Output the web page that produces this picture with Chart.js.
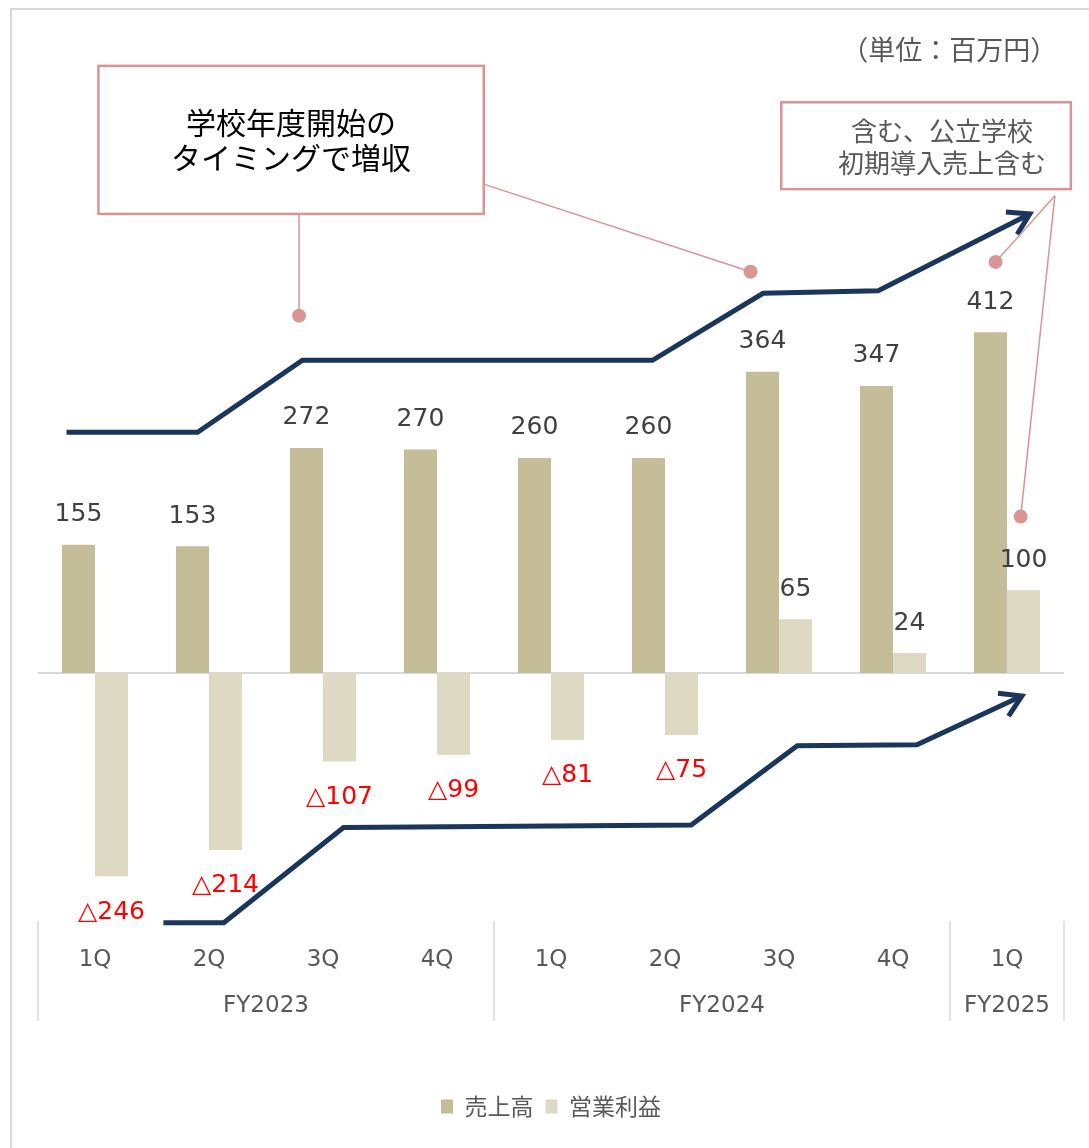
<!DOCTYPE html>
<html lang="ja">
<head>
<meta charset="utf-8">
<script src="https://cdn.jsdelivr.net/npm/chart.js@4.4.0/dist/chart.umd.min.js"></script>
<style>
html,body{margin:0;padding:0;background:#fff;overflow:hidden;}
#wrap{position:relative;width:1089px;height:1148px;}
#frame{position:absolute;left:10px;top:8px;width:1100px;height:1160px;border:2px solid #d9d9d9;box-sizing:border-box;}
canvas{position:absolute;left:0;top:0;}
</style>
</head>
<body>
<div id="wrap"><div id="frame"></div><canvas id="myChart" width="1089" height="1148"></canvas></div>
<script>
// data
var quarters = ["1Q", "2Q", "3Q", "4Q", "1Q", "2Q", "3Q", "4Q", "1Q"];
var fiscalYears = ["FY2023", "FY2024", "FY2025"];
var yearSpans = [4, 4, 1];
var sales = [155, 153, 272, 270, 260, 260, 364, 347, 412];
var opProfit = [-246, -214, -107, -99, -81, -75, 65, 24, 100];
var seriesNames = ["売上高", "営業利益"];
var unitLabel = "（単位：百万円）";
var note1 = ["学校年度開始の", "タイミングで増収"];
var note2 = ["含む、公立学校", "初期導入売上含む"];

var NUM_FONT = '"DejaVu Sans", "Noto Sans CJK JP", sans-serif';
var JP_FONT = '"Noto Sans CJK JP", sans-serif';
var PINK = '#d99594';
var NAVY = '#1b365d';

/* annotation geometry, in (category index, value) units */
var notes = {
    boxes: [
        {x0: 0.03, x1: 3.41, y0: 734, y1: 555, cx: 1.72, ly: [666, 623], lines: note1, size: 30, color: '#000'},
        {x0: 6.02, x1: 8.56, y0: 690, y1: 585, cx: 7.43, ly: [655, 617], lines: note2, size: 26, color: '#595959'}
    ],
    leaders: [
        [[1.79, 555], [1.79, 432]],
        [[3.41, 591], [5.75, 485]],
        [[8.42, 577], [7.90, 497]],
        [[8.42, 577], [8.12, 189]]
    ],
    arrows: [
        [[-0.25, 291], [0.9, 291], [1.82, 378], [4.89, 378], [5.86, 459], [6.87, 462], [8.2, 555]],
        [[0.6, -302], [1.13, -302], [2.18, -187], [5.23, -184], [6.16, -88], [7.21, -87], [8.13, -28]]
    ],
    unit: {x: 8.44, y: 753}
};

function pt(chart, p) {
    return [chart.scales.x.getPixelForValue(p[0]), chart.scales.y.getPixelForValue(p[1])];
}

var extras = {
    id: 'extras',
    beforeDatasetsDraw: function(chart) {
        var ctx = chart.ctx, a = chart.chartArea, y0 = chart.scales.y.getPixelForValue(0);
        ctx.save();
        ctx.strokeStyle = '#d9d9d9';
        ctx.lineWidth = 2;
        ctx.beginPath();
        ctx.moveTo(a.left, y0);
        ctx.lineTo(a.right, y0);
        ctx.stroke();
        ctx.restore();
    },
    afterDatasetsDraw: function(chart) {
        var ctx = chart.ctx, a = chart.chartArea, xs = chart.scales.x;
        ctx.save();

        // value labels
        ctx.textAlign = 'center';
        ctx.textBaseline = 'middle';
        ctx.font = '25px ' + NUM_FONT;
        chart.data.datasets.forEach(function(ds, di) {
            chart.getDatasetMeta(di).data.forEach(function(bar, i) {
                var v = ds.data[i];
                if (v >= 0) {
                    ctx.fillStyle = '#404040';
                    ctx.fillText(String(v), bar.x, bar.y - 30);
                } else {
                    ctx.fillStyle = '#ff0000';
                    ctx.fillText('△' + Math.abs(v), bar.x, bar.y + 36);
                }
            });
        });

        // fiscal year groups under the axis
        ctx.strokeStyle = '#d9d9d9';
        ctx.lineWidth = 1.5;
        ctx.fillStyle = '#595959';
        ctx.font = '23px ' + NUM_FONT;
        var start = 0;
        var edges = [start];
        yearSpans.forEach(function(n) { start += n; edges.push(start); });
        edges.forEach(function(e) {
            var x = xs.getPixelForValue(e - 0.5);
            ctx.beginPath();
            ctx.moveTo(x, a.bottom);
            ctx.lineTo(x, a.bottom + 100);
            ctx.stroke();
        });
        fiscalYears.forEach(function(fy, k) {
            var xa = xs.getPixelForValue(edges[k] - 0.5), xb = xs.getPixelForValue(edges[k + 1] - 0.5);
            ctx.fillText(fy, (xa + xb) / 2, a.bottom + 85);
        });

        // arrows
        ctx.strokeStyle = NAVY;
        ctx.lineWidth = 5;
        ctx.lineJoin = 'miter';
        notes.arrows.forEach(function(path) {
            var p = path.map(function(q) { return pt(chart, q); });
            ctx.beginPath();
            ctx.moveTo(p[0][0], p[0][1]);
            for (var i = 1; i < p.length; i++) ctx.lineTo(p[i][0], p[i][1]);
            ctx.stroke();
            var e = p[p.length - 1], s = p[p.length - 2];
            var ang = Math.atan2(e[1] - s[1], e[0] - s[0]);
            ctx.beginPath();
            ctx.moveTo(e[0] - 24 * Math.cos(ang - 0.55), e[1] - 24 * Math.sin(ang - 0.55));
            ctx.lineTo(e[0], e[1]);
            ctx.lineTo(e[0] - 24 * Math.cos(ang + 0.55), e[1] - 24 * Math.sin(ang + 0.55));
            ctx.stroke();
        });

        // leader lines + dots
        ctx.strokeStyle = PINK;
        ctx.fillStyle = PINK;
        ctx.lineWidth = 1.5;
        notes.leaders.forEach(function(l) {
            var p = pt(chart, l[0]), q = pt(chart, l[1]);
            ctx.beginPath();
            ctx.moveTo(p[0], p[1]);
            ctx.lineTo(q[0], q[1]);
            ctx.stroke();
            ctx.beginPath();
            ctx.arc(q[0], q[1], 7, 0, Math.PI * 2);
            ctx.fill();
        });

        // callout boxes
        notes.boxes.forEach(function(b) {
            var p = pt(chart, [b.x0, b.y0]), q = pt(chart, [b.x1, b.y1]);
            ctx.fillStyle = '#fff';
            ctx.fillRect(p[0], p[1], q[0] - p[0], q[1] - p[1]);
            ctx.strokeStyle = PINK;
            ctx.lineWidth = 2.5;
            ctx.strokeRect(p[0], p[1], q[0] - p[0], q[1] - p[1]);
            ctx.fillStyle = b.color;
            ctx.font = b.size + 'px ' + JP_FONT;
            b.lines.forEach(function(t, k) {
                var c = pt(chart, [b.cx, b.ly[k]]);
                ctx.fillText(t, c[0], c[1]);
            });
        });

        // unit
        var u = pt(chart, [notes.unit.x, notes.unit.y]);
        ctx.textAlign = 'right';
        ctx.fillStyle = '#595959';
        ctx.font = '27px ' + JP_FONT;
        ctx.fillText(unitLabel, u[0], u[1]);

        ctx.restore();
    }
};

var ctx = document.getElementById("myChart").getContext("2d");
var myChart = new Chart(ctx, {
    type: 'bar',
    data: {
        labels: quarters,
        datasets: [
            {label: seriesNames[0], data: sales, backgroundColor: '#c4bd97'},
            {label: seriesNames[1], data: opProfit, backgroundColor: '#ddd9c3'}
        ]
    },
    options: {
        responsive: false,
        animation: false,
        devicePixelRatio: 1,
        categoryPercentage: 0.58,
        barPercentage: 1.0,
        layout: {padding: {top: 94, left: 38, right: 25, bottom: 20}},
        scales: {
            x: {
                grid: {display: false},
                border: {display: false},
                ticks: {color: '#595959', font: {family: NUM_FONT, size: 23}, padding: 17, maxRotation: 0, autoSkip: false},
                afterFit: function(s) { s.height = 162; }
            },
            y: {display: false, min: -300, max: 700}
        },
        plugins: {
            legend: {
                position: 'bottom',
                labels: {color: '#595959', font: {family: JP_FONT, size: 23}, boxWidth: 12, boxHeight: 14, padding: 12}
            },
            tooltip: {enabled: false}
        }
    },
    plugins: [extras]
});
</script>
</body>
</html>
